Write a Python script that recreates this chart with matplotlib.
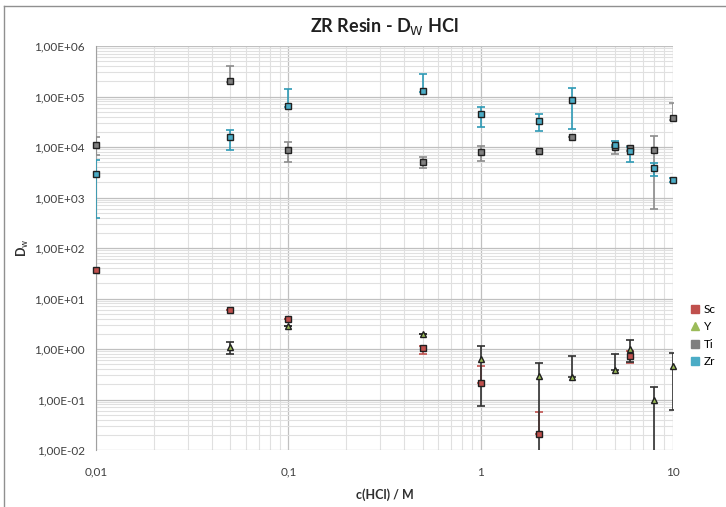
import numpy as np
import matplotlib
matplotlib.use('Agg')
from matplotlib import pyplot as plt
from matplotlib.ticker import FixedLocator, LogLocator, NullFormatter
from matplotlib.lines import Line2D

plt.rcParams['font.family'] = ['Lato', 'DejaVu Sans']

# data (value, upper end of error bar, lower end of error bar)
sc_x = [0.01, 0.05, 0.1, 0.5, 1, 2, 6]
sc_y = [37, 6.0, 3.9, 1.05, 0.21, 0.021, 0.72]
sc_hi = [37, 6.0, 3.9, 1.15, 0.46, 0.056, 0.93]
sc_lo = [37, 6.0, 3.9, 0.80, 0.21, 0.021, 0.53]

y_x = [0.05, 0.1, 0.5, 1, 2, 3, 5, 6, 8, 10]
y_y = [1.1, 2.9, 2.0, 0.63, 0.29, 0.28, 0.38, 1.0, 0.098, 0.46]
y_hi = [1.38, 2.9, 2.0, 1.17, 0.54, 0.74, 0.81, 1.5, 0.18, 0.85]
y_lo = [0.80, 2.9, 2.0, 0.074, 0.001, 0.28, 0.38, 0.55, 0.001, 0.062]

ti_x = [0.01, 0.05, 0.1, 0.5, 1, 2, 3, 5, 6, 8, 10]
ti_y = [1.1e4, 2.05e5, 8.7e3, 5.0e3, 8.1e3, 8.3e3, 1.58e4, 9.8e3, 9.5e3, 8.9e3, 3.7e4]
ti_hi = [1.6e4, 4.1e5, 1.25e4, 6.3e3, 1.05e4, 8.3e3, 1.58e4, 1.1e4, 1.05e4, 1.65e4, 7.6e4]
ti_lo = [7.0e3, 1.9e5, 5.1e3, 3.9e3, 5.4e3, 8.3e3, 1.58e4, 7.2e3, 8.5e3, 6.0e2, 3.5e4]

zr_x = [0.01, 0.05, 0.1, 0.5, 1, 2, 3, 5, 6, 8, 10]
zr_y = [2.9e3, 1.55e4, 6.5e4, 1.3e5, 4.5e4, 3.3e4, 8.7e4, 1.12e4, 8.3e3, 3.8e3, 2.2e3]
zr_hi = [5.5e3, 2.2e4, 1.4e5, 2.8e5, 6.3e4, 4.5e4, 1.45e5, 1.3e4, 1.0e4, 4.9e3, 2.4e3]
zr_lo = [3.9e2, 8.7e3, 6.3e4, 1.25e5, 2.5e4, 2.1e4, 2.3e4, 1.0e4, 5.1e3, 2.7e3, 2.0e3]

x_ticks = [0.01, 0.1, 1, 10]
x_labels = ['0,01', '0,1', '1', '10']
y_ticks = [1e-2, 1e-1, 1e0, 1e1, 1e2, 1e3, 1e4, 1e5, 1e6]
y_labels = ['1,00E-02', '1,00E-01', '1,00E+00', '1,00E+01', '1,00E+02',
            '1,00E+03', '1,00E+04', '1,00E+05', '1,00E+06']

fig = plt.figure(figsize=(7.26, 5.07), dpi=100)
fig.subplots_adjust(left=96/726, right=673/726, top=1-46/507, bottom=1-450/507)
ax = fig.add_subplot()

ax.set_xscale('log')
ax.set_yscale('log')
ax.set_xlim(0.01, 10)
ax.set_ylim(1e-2, 1e6)

ax.xaxis.set_major_locator(FixedLocator(x_ticks))
ax.set_xticklabels(x_labels)
ax.xaxis.set_minor_locator(LogLocator(base=10, subs=np.arange(2, 10)))
ax.xaxis.set_minor_formatter(NullFormatter())
ax.yaxis.set_major_locator(FixedLocator(y_ticks))
ax.set_yticklabels(y_labels)
ax.yaxis.set_minor_locator(LogLocator(base=10, subs=np.arange(2, 10)))
ax.yaxis.set_minor_formatter(NullFormatter())

ax.grid(True, which='major', color='#c0c0c0', linewidth=0.9)
ax.grid(True, which='minor', color='#e0e0e0', linewidth=0.8)
ax.set_axisbelow(True)
ax.tick_params(which='both', length=0, labelsize=8.5, colors='#404040')
ax.tick_params(axis='x', pad=12)
ax.tick_params(axis='y', pad=8)
for s in ['top', 'right', 'bottom']:
    ax.spines[s].set_visible(False)
ax.spines['left'].set_color('#a0a0a0')

def series(xs, ys, hi, lo, marker, face, ecol, label, ms):
    ys = np.array(ys)
    err = [ys - np.array(lo), np.array(hi) - ys]
    ax.errorbar(xs, ys, yerr=err, fmt='none', ecolor=ecol, elinewidth=1.2,
                capsize=3, capthick=1.2, zorder=3)
    ax.plot(xs, ys, linestyle='none', marker=marker, markersize=ms,
            markerfacecolor=face, markeredgecolor='#202020', markeredgewidth=1.0,
            label=label, zorder=4, clip_on=False)

series(sc_x, sc_y, sc_hi, sc_lo, 's', '#c0504d', '#c0504d', 'Sc', 5)
series(y_x, y_y, y_hi, y_lo, '^', '#9bbb59', '#303030', 'Y', 5)
series(ti_x, ti_y, ti_hi, ti_lo, 's', '#7f7f7f', '#8c8c8c', 'Ti', 5)
series(zr_x, zr_y, zr_hi, zr_lo, 's', '#4bacc6', '#2e9ab5', 'Zr', 5)

ax.set_title('ZR Resin - D$_\\mathrm{W}$ HCl', fontsize=13, fontweight='bold',
             color='#202020', pad=10)
ax.set_xlabel('c(HCl) / M', fontsize=9, fontweight='bold', color='#303030', labelpad=8)
ax.set_ylabel('D$_\\mathrm{w}$', fontsize=9, fontweight='bold', color='#303030', labelpad=2)

handles = [Line2D([], [], linestyle='none', marker=m, markersize=6, markerfacecolor=c,
                  markeredgecolor=c) for m, c in
           [('s', '#c0504d'), ('^', '#9bbb59'), ('s', '#7f7f7f'), ('s', '#4bacc6')]]
fig.legend(handles, ['Sc', 'Y', 'Ti', 'Zr'], loc='upper left',
           bbox_to_anchor=(684/726, 1-298/507), frameon=False, fontsize=8.5,
           handlelength=0.8, handletextpad=0.4, labelspacing=0.55, borderpad=0)

# chart-area border (only top and left visible in the reference)
fig.add_artist(Line2D([4/726, 1], [1-6/507, 1-6/507], color='#909090', linewidth=1))
fig.add_artist(Line2D([4/726, 4/726], [0, 1-6/507], color='#909090', linewidth=1))

fig.savefig('out.png', dpi=100)
